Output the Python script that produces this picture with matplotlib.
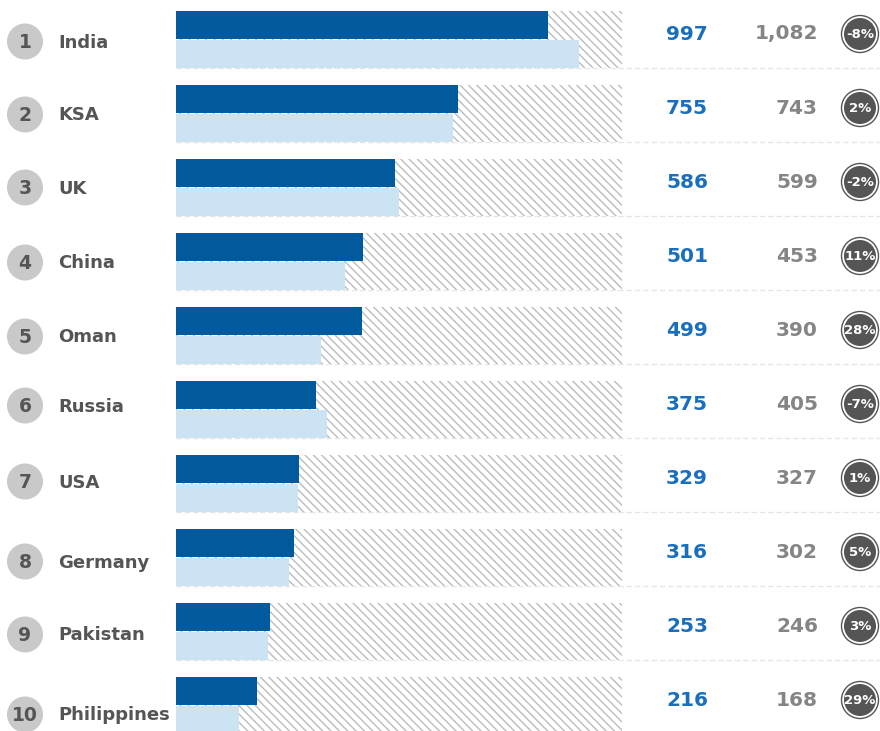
import matplotlib
matplotlib.use("Agg")
import matplotlib.pyplot as plt
from matplotlib.patches import Circle

countries = ["India", "KSA", "UK", "China", "Oman", "Russia", "USA", "Germany", "Pakistan", "Philippines"]
ranks = ["1", "2", "3", "4", "5", "6", "7", "8", "9", "10"]
current = [997, 755, 586, 501, 499, 375, 329, 316, 253, 216]
previous = [1082, 743, 599, 453, 390, 405, 327, 302, 246, 168]
change_labels = ["-8%", "2%", "-2%", "11%", "28%", "-7%", "1%", "5%", "3%", "29%"]

plt.rcParams["hatch.linewidth"] = 1.0
W, H = 880, 731
fig = plt.figure(figsize=(W / 100, H / 100), dpi=100)
fig.patch.set_facecolor("white")

# overlay axes in pixel units for decorations/text
ov = fig.add_axes([0, 0, 1, 1])
ov.set_xlim(0, W)
ov.set_ylim(H, 0)
ov.axis("off")

# bar axes
bx = fig.add_axes([176 / W, 0, 446 / W, 1])
bx.set_xlim(0, 1196)
bx.set_ylim(H, 0)
bx.axis("off")
bx.patch.set_alpha(0)

pitch = 74
top0 = 11
bh = 28
n = len(countries)
dark_y = [top0 + bh / 2 + pitch * i for i in range(n)]
light_y = [top0 + bh + 1 + bh / 2 + pitch * i for i in range(n)]
bg_y = [top0 + 28.5 + pitch * i for i in range(n)]

# separators
for i in range(n):
    ov.plot([176, W], [top0 + 57 + pitch * i] * 2, color="#e6e6e6", lw=1,
            ls=(0, (4, 2)), zorder=0)

bx.barh(bg_y, [1196] * n, height=57, color="white", edgecolor="#bcbcbc",
        hatch="\\\\\\\\", linewidth=0, zorder=1)
bx.barh(dark_y, current, height=bh, color="#005a9b", linewidth=0, zorder=2)
bx.barh(light_y, previous, height=bh, color="#cce3f3", linewidth=0, zorder=2)

label_off = [2, 1, 0, 1, 1, -4, -2, 4, 3, 9]
for i in range(n):
    cy = bg_y[i] + label_off[i]
    ov.add_patch(Circle((25, cy), 18, facecolor="#c9c9c9", edgecolor="none", zorder=3))
    ov.text(25, cy + 1, ranks[i], ha="center", va="center", fontsize=13.5,
            fontweight="bold", color="#555555", zorder=4)
    ov.text(58, cy + 1, countries[i], ha="left", va="center", fontsize=13,
            fontweight="bold", color="#555555", zorder=4)
    vy = bg_y[i] - 5.5
    ov.text(708, vy, f"{current[i]:,}", ha="right", va="center", fontsize=14.5,
            fontweight="bold", color="#1a6fbd", zorder=4)
    ov.text(818, vy, f"{previous[i]:,}", ha="right", va="center", fontsize=14.5,
            fontweight="bold", color="#858585", zorder=4)
    ov.add_patch(Circle((860, vy), 18.5, facecolor="white", edgecolor="#555555",
                        lw=1.0, zorder=3))
    ov.add_patch(Circle((860, vy), 16, facecolor="#555555", edgecolor="none", zorder=4))
    ov.text(860, vy + 0.5, change_labels[i], ha="center", va="center", fontsize=9.5,
            fontweight="bold", color="white", zorder=5)

fig.savefig("out.png", dpi=100, facecolor="white")
